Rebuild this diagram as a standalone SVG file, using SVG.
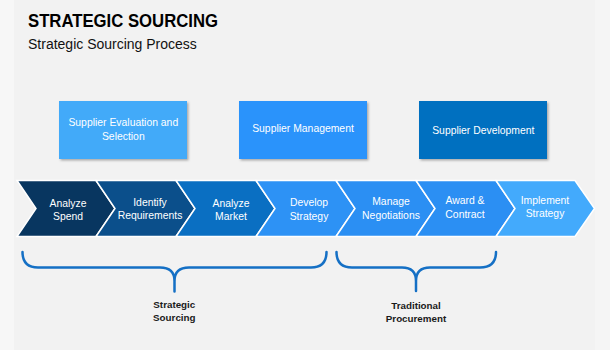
<svg xmlns="http://www.w3.org/2000/svg" width="610" height="350" viewBox="0 0 610 350">
<defs>
<filter id="sh" x="-10%" y="-10%" width="125%" height="130%">
<feDropShadow dx="1.5" dy="1.5" stdDeviation="1" flood-color="#000" flood-opacity="0.3"/>
</filter>
<style>
.t{font-family:"Liberation Sans",Arial,sans-serif}
.w{fill:#fff;font-size:10.4px;text-anchor:middle}
.b{fill:#1a1a1a;font-size:9.8px;font-weight:bold;text-anchor:middle}
.chev{stroke:#fff;stroke-width:1.5;stroke-linejoin:miter}
.box{filter:url(#sh)}
.brace{fill:none;stroke:#1570c5;stroke-width:2.5;stroke-linecap:round}
</style>
</defs>
<rect width="610" height="350" fill="#f2f2f2"/>
<rect x="0" y="0" width="14" height="350" fill="#f7f7f7"/>
<rect x="595" y="0" width="15" height="350" fill="#f5f5f5"/>

<g id="title" class="t">
<text x="28" y="26.7" font-size="18.5" font-weight="bold" fill="#000" textLength="190" lengthAdjust="spacingAndGlyphs">STRATEGIC SOURCING</text>
<text x="28" y="48.7" font-size="14" fill="#111">Strategic Sourcing Process</text>
</g>

<g id="box1">
<rect class="box" x="59" y="101" width="128" height="58" fill="#42aaf9"/>
<text class="t w" x="123.3" y="126">Supplier Evaluation and</text>
<text class="t w" x="123.3" y="139.7">Selection</text>
</g>
<g id="box2">
<rect class="box" x="239" y="101" width="128" height="58" fill="#2b93fb"/>
<text class="t w" x="303" y="132">Supplier Management</text>
</g>
<g id="box3">
<rect class="box" x="419" y="101" width="128" height="58" fill="#0070c0"/>
<text class="t w" x="483.3" y="133.7">Supplier Development</text>
</g>

<g id="chev1">
<polygon class="chev" points="17,180.5 96,180.5 115,208.5 96,236.5 17,236.5 36,208.5" fill="#083660"/>
<text class="t w" x="68" y="206.7">Analyze</text>
<text class="t w" x="68" y="220.4">Spend</text>
</g>
<g id="chev2">
<polygon class="chev" points="96,180.5 176,180.5 195,208.5 176,236.5 96,236.5 115,208.5" fill="#0b4f8b"/>
<text class="t w" x="150" y="205.7">Identify</text>
<text class="t w" x="150" y="219.4">Requirements</text>
</g>
<g id="chev3">
<polygon class="chev" points="176,180.5 256,180.5 275,208.5 256,236.5 176,236.5 195,208.5" fill="#0a6fc2"/>
<text class="t w" x="231" y="206.7">Analyze</text>
<text class="t w" x="231" y="220.4">Market</text>
</g>
<g id="chev4">
<polygon class="chev" points="256,180.5 336,180.5 355,208.5 336,236.5 256,236.5 275,208.5" fill="#2d92f5"/>
<text class="t w" x="309" y="206.4">Develop</text>
<text class="t w" x="309" y="220.1">Strategy</text>
</g>
<g id="chev5">
<polygon class="chev" points="336,180.5 416,180.5 435,208.5 416,236.5 336,236.5 355,208.5" fill="#2b8ff3"/>
<text class="t w" x="391" y="205.4">Manage</text>
<text class="t w" x="391" y="218.7">Negotiations</text>
</g>
<g id="chev6">
<polygon class="chev" points="416,180.5 496,180.5 515,208.5 496,236.5 416,236.5 435,208.5" fill="#2b8ff3"/>
<text class="t w" x="465" y="204.4">Award &amp;</text>
<text class="t w" x="465" y="217.7">Contract</text>
</g>
<g id="chev7">
<polygon class="chev" points="496,180.5 575,180.5 594.5,208.5 575,236.5 496,236.5 515,208.5" fill="#43aafc"/>
<text class="t w" x="545" y="203.7">Implement</text>
<text class="t w" x="545" y="216.7">Strategy</text>
</g>

<g id="connectors">
<path class="brace" d="M22.5,252 Q22.5,267.5 38,267.5 H160 Q174.5,267.5 174.5,281 V291.5 M326.5,252 Q326.5,267.5 311,267.5 H189 Q174.5,267.5 174.5,281"/>
<path class="brace" d="M336.5,252 Q336.5,267.5 352,267.5 H402 Q416,267.5 416,281 V291 M496,252 Q496,267.5 480,267.5 H430 Q416,267.5 416,281"/>
</g>

<g id="label-strategic">
<text class="t b" x="174.3" y="307.5">Strategic</text>
<text class="t b" x="174.3" y="320.5">Sourcing</text>
</g>
<g id="label-traditional">
<text class="t b" x="416" y="308.5">Traditional</text>
<text class="t b" x="416" y="321.8">Procurement</text>
</g>
</svg>
